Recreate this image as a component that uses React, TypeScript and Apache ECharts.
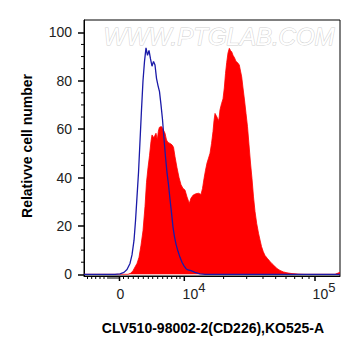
import React, { useEffect, useRef } from "react";
import * as echarts from "echarts";

const redChannel = [0, 44, 47, 49, 51, 53, 55, 57, 59, 61, 62.5, 64, 65.5, 67, 68, 69, 70, 71, 72, 73.3, 74.3, 75.3, 76.5, 77.7, 79, 81, 82.5, 84, 86, 88, 89.5, 91, 93, 95, 97, 99, 101, 103, 105.3, 107, 109.3, 112, 114.5, 117, 118.5, 120, 121.5, 123, 124.5, 126, 127.5, 129, 130, 131, 132.3, 133.5, 134.8, 136, 137.5, 139, 140.3, 141.5, 142.7, 144, 145.3, 146.5, 147.7, 149, 150.5, 152, 153.5, 155.3, 156.5, 157.7, 159, 160.5, 162, 163.5, 165, 166.5, 168, 169.5, 171, 172.7, 174.5, 176, 177.5, 179.3, 181, 183.3, 186, 188, 190.5, 193, 196, 199.3, 203, 208, 214, 221, 251, 254, 256];
const redCount = [0, 0, 0.5, 1.5, 3, 4.5, 7, 12, 18, 28, 38, 44, 49, 55, 57.6, 57, 56.5, 57.5, 58.3, 55.5, 59, 60.7, 61, 61, 60, 58.3, 55.5, 54.5, 54.1, 53.5, 52.5, 48.6, 44, 40, 37, 35.5, 34.8, 32, 29.3, 31.5, 32.8, 33.3, 33.5, 33, 35.5, 39.5, 43, 46, 48, 50, 54, 59, 63.5, 66.5, 65.5, 64.5, 63.5, 68, 70.5, 72.5, 77, 83, 87.5, 91.5, 93.4, 92.5, 92, 90.5, 89.5, 88, 87.5, 86.5, 84, 81.6, 77, 72, 66.5, 61, 53.5, 46, 39.5, 32, 26, 21, 17, 14.2, 11.5, 9.3, 7.8, 6.6, 5.3, 4.4, 3.4, 2.4, 1.6, 1, 0.6, 0.3, 0.1, 0, 0, 0.5, 0.8];

const blueChannel = [0, 31, 36, 40, 43, 46, 48, 50, 51.5, 53, 54.5, 56, 57.5, 59, 60.5, 62, 63.5, 65, 66.5, 68, 69.5, 71, 72.5, 74, 75.5, 77, 78.5, 80, 81.5, 83, 84.5, 86, 87.5, 89, 90.5, 92, 94, 96, 98, 100, 102, 104, 107, 111, 116, 121, 256];
const blueCount = [0, 0, 0.2, 0.8, 2, 4.5, 8, 14, 22, 32, 42, 55, 68, 80, 88, 93.6, 90.5, 92.5, 89, 86, 88, 86.5, 81, 78, 75.5, 70, 64, 56, 48.5, 42, 37, 31, 25.5, 19.5, 15.5, 12.5, 9.5, 7, 5, 3.5, 2.3, 1.8, 1.5, 0.8, 0.2, 0, 0];

const xMajorTicks = [35.5, 100.3, 231];
const xMinorTicks = [3.5, 7.7, 11.7, 16, 20, 24, 26, 28, 30, 32, 34, 39.5, 44.3, 49.3, 54.3, 59.3, 64.3, 68.7, 73.7, 78.7, 83.3, 87.7, 92.7, 96, 139.6, 162.7, 179, 191.7, 202, 210.7, 218.3, 225];
const xLabelPos = [36.5, 110, 240];
const xLabelText = ["{base|0}", "{base|10}{sup|4}", "{base|10}{sup|5}"];

const yMajorTicks = [0, 20, 40, 60, 80, 100];
const yMinorTicks = [5, 10, 15, 25, 30, 35, 45, 50, 55, 65, 70, 75, 85, 90, 95];

const xTitle = "CLV510-98002-2(CD226),KO525-A";
const yTitle = "Relativve cell number";
const watermark = "WWW.PTGLAB.COM";

const FONT = '"Liberation Sans", Arial, sans-serif';

export default function App() {
  const ref = useRef<HTMLDivElement>(null);
  useEffect(() => {
    if (!ref.current) return;
    const chart = echarts.init(ref.current, undefined, { renderer: "svg" });
    const X_MIN = 0, X_MAX = 256, Y_MIN = -0.7, Y_MAX = 105.1;

    chart.setOption({
      animation: false,
      backgroundColor: "#fff",
      grid: {
        left: 84,
        right: 21,
        top: 20,
        bottom: 80,
        show: true,
        borderColor: "#000",
        borderWidth: 1,
        backgroundColor: "transparent",
      },
      xAxis: {
        type: "value",
        min: X_MIN,
        max: X_MAX,
        position: "bottom",
        splitLine: { show: false },
        axisLine: { show: true, onZero: false, lineStyle: { color: "#000", width: 1 } },
        axisTick: { show: false },
        axisLabel: {
          show: true,
          customValues: xLabelPos,
          margin: 5,
          formatter: (v: number) => {
            let best = 0;
            xLabelPos.forEach((p, i) => {
              if (Math.abs(p - v) < Math.abs(xLabelPos[best] - v)) best = i;
            });
            return xLabelText[best];
          },
          rich: {
            base: { fontSize: 14, lineHeight: 16, fontFamily: FONT, color: "#222", padding: [9, 0, 0, 0] },
            sup: { fontSize: 13, lineHeight: 14, fontFamily: FONT, color: "#222", verticalAlign: "top" },
          },
        },
      },
      yAxis: {
        type: "value",
        min: Y_MIN,
        max: Y_MAX,
        position: "left",
        splitLine: { show: false },
        axisLine: { show: true, onZero: false, lineStyle: { color: "#000", width: 1 } },
        axisTick: { show: true, customValues: yMajorTicks, length: 6, lineStyle: { color: "#000", width: 1.5 } },
        axisLabel: {
          show: true,
          customValues: yMajorTicks,
          margin: 12,
          fontSize: 14,
          fontFamily: FONT,
          color: "#222",
        },
      },
      series: [
        {
          name: "sample",
          type: "line",
          symbol: "none",
          data: redChannel.map((c, i) => [c, redCount[i]]),
          lineStyle: { color: "#ff0000", width: 0.8 },
          areaStyle: { color: "#ff0000", opacity: 1 },
          z: 2,
        },
        {
          name: "control",
          type: "line",
          symbol: "none",
          data: blueChannel.map((c, i) => [c, blueCount[i]]),
          lineStyle: { color: "#1a1aa8", width: 1.3 },
          z: 3,
        },
      ],
    });

    // ticks placed through the chart's own scales
    const origin = chart.convertToPixel({ gridIndex: 0 }, [X_MIN, Y_MIN]);
    const bottomY = origin[1];
    const leftX = origin[0];
    const tickEls: any[] = [];
    xMajorTicks.forEach((v) => {
      const px = chart.convertToPixel({ gridIndex: 0 }, [v, Y_MIN])[0];
      tickEls.push({
        type: "line",
        shape: { x1: px, y1: bottomY, x2: px, y2: bottomY + 5 },
        style: { stroke: "#000", lineWidth: 1.5 },
        z: 20,
      });
    });
    xMinorTicks.forEach((v) => {
      const px = chart.convertToPixel({ gridIndex: 0 }, [v, Y_MIN])[0];
      tickEls.push({
        type: "line",
        shape: { x1: px, y1: bottomY, x2: px, y2: bottomY + 3 },
        style: { stroke: "#000", lineWidth: 1 },
        z: 20,
      });
    });
    yMinorTicks.forEach((v) => {
      const py = chart.convertToPixel({ gridIndex: 0 }, [X_MIN, v])[1];
      tickEls.push({
        type: "line",
        shape: { x1: leftX - 3, y1: py, x2: leftX, y2: py },
        style: { stroke: "#000", lineWidth: 1 },
        z: 20,
      });
    });

    chart.setOption({
      graphic: [
        ...tickEls,
        {
          type: "text",
          left: 103,
          top: 24,
          z: 10,
          style: {
            text: watermark,
            font: `italic 24px ${FONT}`,
            fill: "#ffffff",
            stroke: "#cfcfcf",
            lineWidth: 1,
          },
        },
        {
          type: "text",
          x: 27,
          y: 146,
          rotation: Math.PI / 2,
          style: {
            text: yTitle,
            font: `bold 14px ${FONT}`,
            fill: "#000",
            align: "center",
            verticalAlign: "middle",
          },
        },
        {
          type: "text",
          x: 213,
          y: 328,
          style: {
            text: xTitle,
            font: `bold 14px ${FONT}`,
            fill: "#000",
            align: "center",
            verticalAlign: "middle",
          },
        },
      ],
    });
    return () => chart.dispose();
  }, []);
  return (
    <div
      ref={ref}
      style={{ position: "fixed", left: 0, top: 0, width: 361, height: 356, background: "#fff" }}
    />
  );
}
